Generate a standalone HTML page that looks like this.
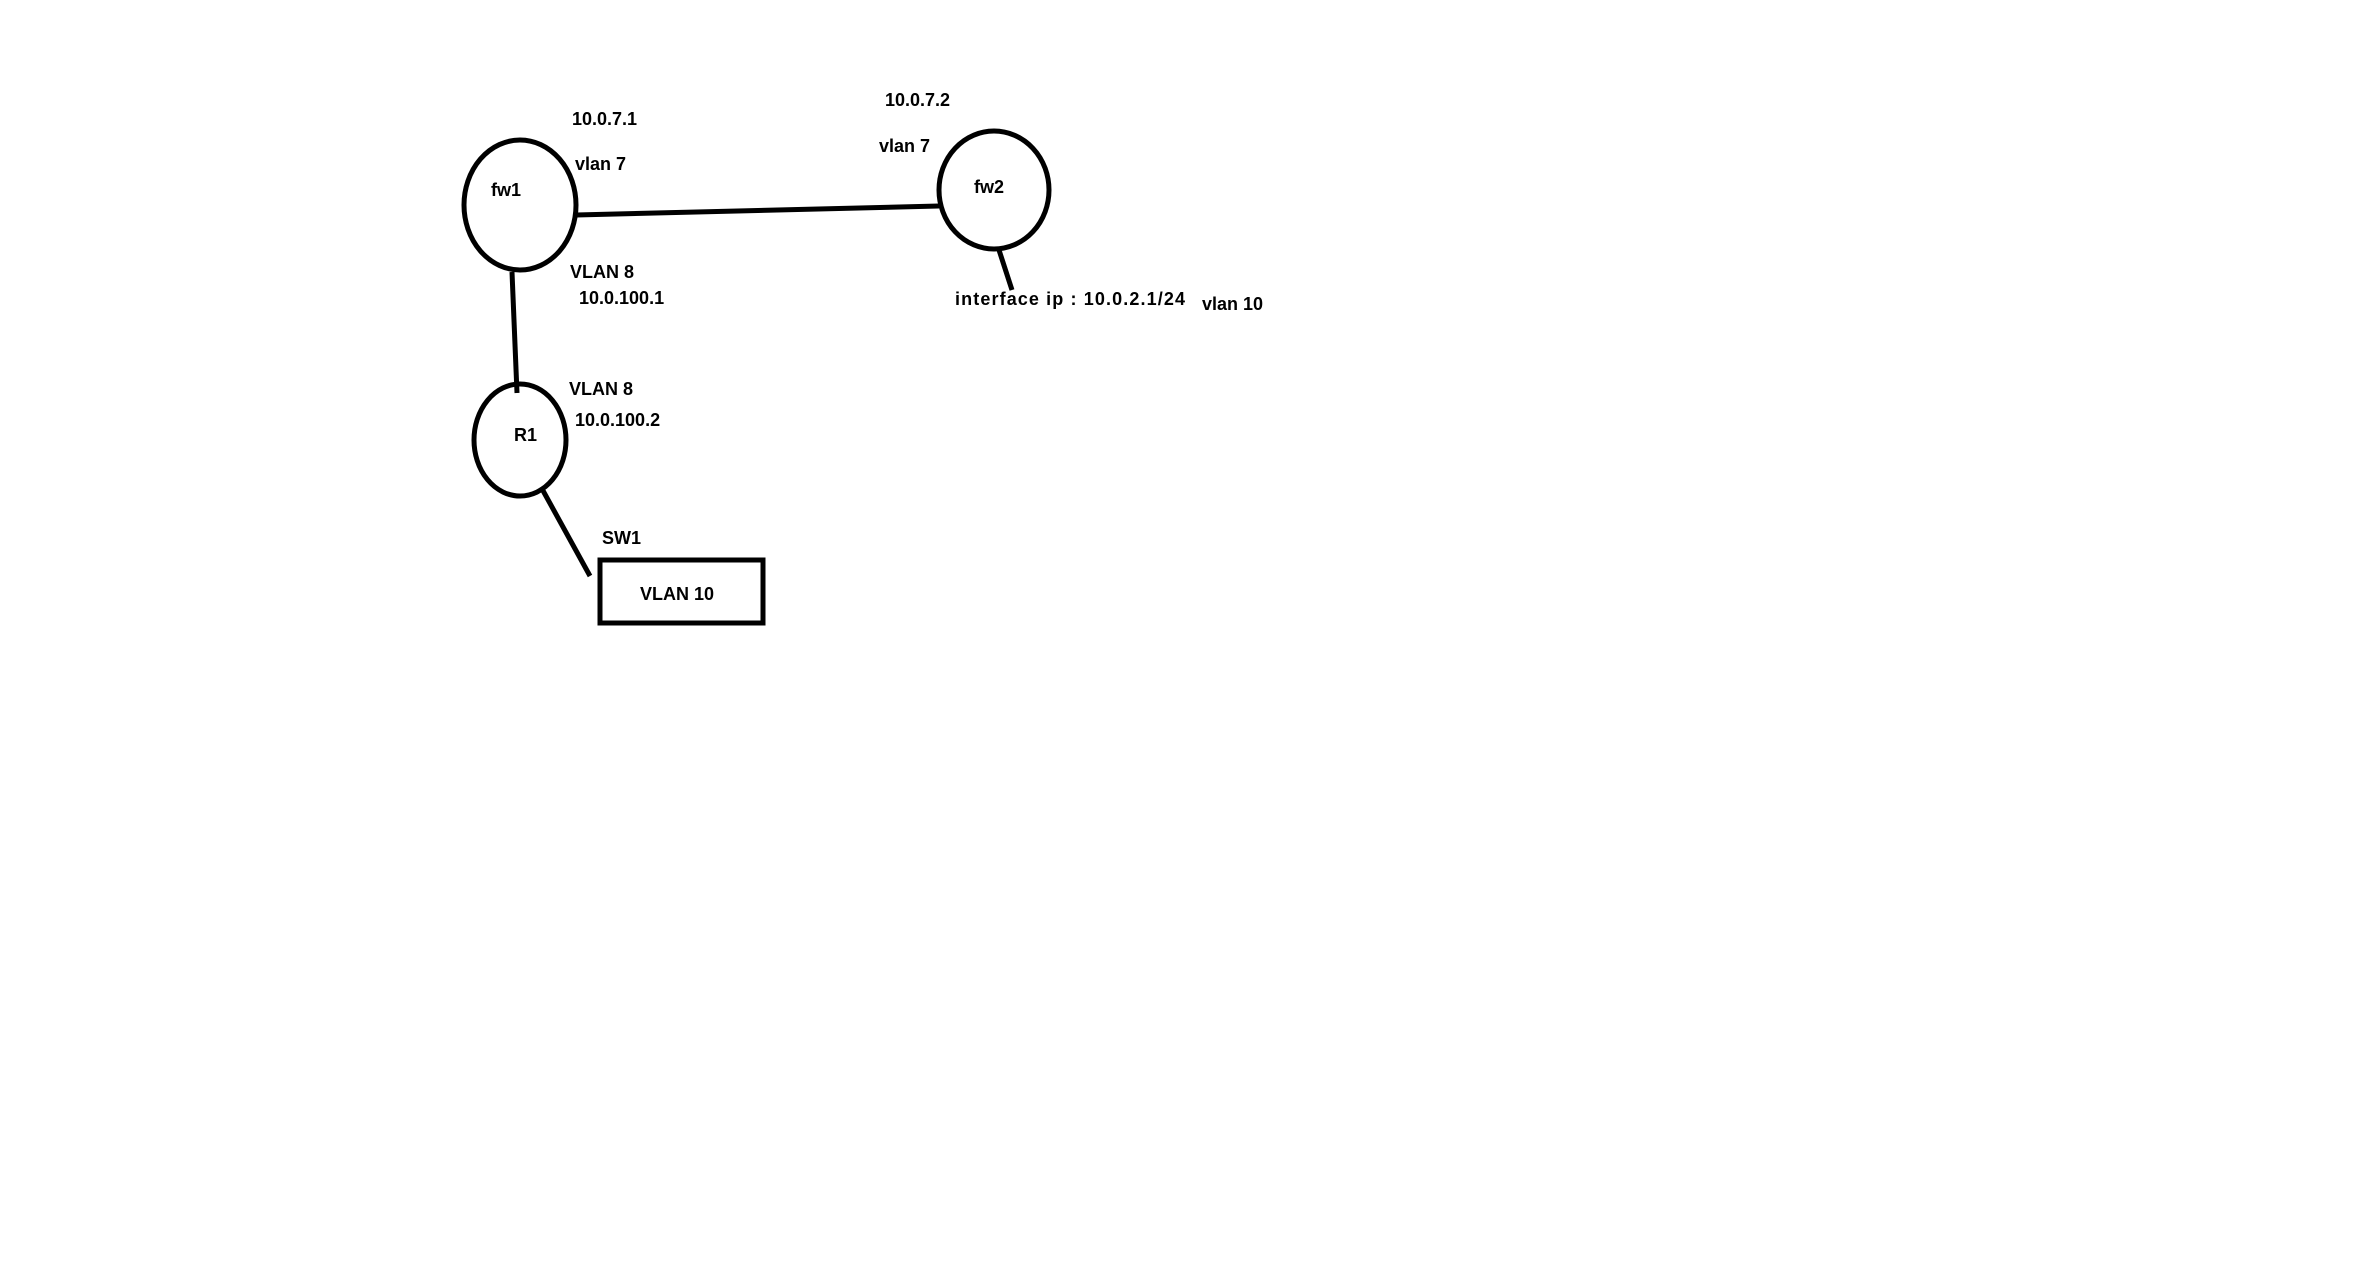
<!DOCTYPE html>
<html><head><style>
html,body{margin:0;padding:0;background:#fff;}
svg{display:block}
text{font-family:"Liberation Sans",sans-serif;font-weight:bold;font-size:18px;fill:#000;dominant-baseline:middle}
</style></head><body>
<svg width="2371" height="1288" viewBox="0 0 2371 1288" xmlns="http://www.w3.org/2000/svg">
<g transform="translate(-3,-2)">
<g fill="none" stroke="#000" stroke-width="5">
<ellipse cx="523" cy="207" rx="56" ry="65"/>
<ellipse cx="997" cy="192" rx="55" ry="59"/>
<ellipse cx="523" cy="442" rx="46" ry="56"/>
<line x1="579" y1="217" x2="942" y2="208"/>
<line x1="515" y1="274" x2="520" y2="395"/>
<line x1="544" y1="489" x2="593" y2="578"/>
<line x1="1002" y1="252" x2="1015" y2="292"/>
<rect x="603" y="562" width="163" height="63"/>
</g>
<text x="575" y="122">10.0.7.1</text>
<text x="578" y="167">vlan 7</text>
<text x="494" y="193">fw1</text>
<text x="888" y="103">10.0.7.2</text>
<text x="882" y="149">vlan 7</text>
<text x="977" y="190">fw2</text>
<text x="573" y="275">VLAN 8</text>
<text x="582" y="301">10.0.100.1</text>
<text x="958" y="302" textLength="230" lengthAdjust="spacing">interface  ip : 10.0.2.1/24</text>
<text x="1205" y="307">vlan 10</text>
<text x="572" y="392">VLAN 8</text>
<text x="578" y="423">10.0.100.2</text>
<text x="517" y="438">R1</text>
<text x="605" y="541">SW1</text>
<text x="643" y="597">VLAN 10</text>
</g>
</svg>
</body></html>
